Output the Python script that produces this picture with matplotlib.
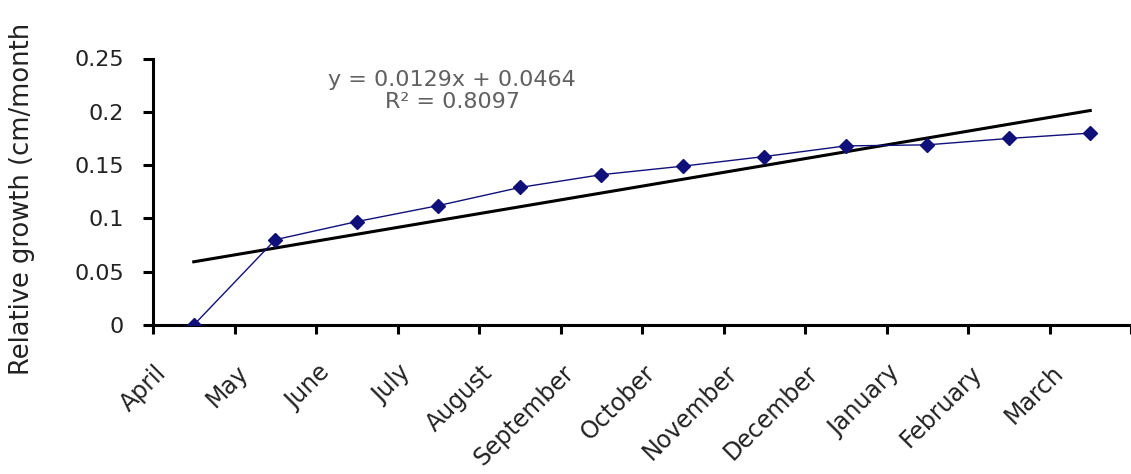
import matplotlib
matplotlib.use("Agg")
import matplotlib.pyplot as plt
import matplotlib.transforms as mtransforms
import numpy as np

months = ["April", "May", "June", "July", "August", "September", "October",
          "November", "December", "January", "February", "March"]
growth = [0.0, 0.080, 0.097, 0.112, 0.129, 0.141, 0.149, 0.158, 0.168, 0.169, 0.175, 0.180]

# linear trendline as reported on the chart
slope = 0.0129
intercept = 0.0464
r_squared = 0.8097

y_ticks = [0, 0.05, 0.1, 0.15, 0.2, 0.25]
y_ticklabels = ["0", "0.05", "0.1", "0.15", "0.2", "0.25"]

plt.rcParams["font.family"] = ["DejaVu Sans"]

fig = plt.figure(figsize=(11.31, 4.74), dpi=100)
ax = fig.add_axes([153 / 1131, 1 - 325 / 474, 1 - 153 / 1131, (325 - 58.5) / 474])

x = np.arange(len(months))
trend = slope * (x + 1) + intercept

ax.plot(x, trend, color="black", lw=2.2, zorder=2)
ax.plot(x, growth, color="#10107a", lw=1.0, marker="D", markersize=7,
        markerfacecolor="#10107a", markeredgecolor="#10107a", zorder=3)

ax.set_xlim(-0.5, len(months) - 0.5)
ax.set_ylim(0, 0.25)

for side in ["top", "right"]:
    ax.spines[side].set_visible(False)
for side in ["left", "bottom"]:
    ax.spines[side].set_linewidth(2.2)
    ax.spines[side].set_color("black")

ax.set_yticks(y_ticks)
ax.set_yticklabels(y_ticklabels, fontsize=16, color="#222222")
ax.tick_params(axis="y", direction="out", length=7, width=2.2, pad=14)

# category labels at centres, tick marks between categories
ax.set_xticks(x)
ax.set_xticklabels(months, fontsize=17, color="#222222", rotation=45,
                   ha="right", va="center", rotation_mode="anchor")
ax.set_xticks(np.arange(-0.5, len(months)), minor=True)
ax.tick_params(axis="x", which="major", length=0, pad=32)
ax.tick_params(axis="x", which="minor", direction="out", length=6.5, width=2.2)

shift = mtransforms.ScaledTranslation(-0.31, 0, fig.dpi_scale_trans)
for lbl in ax.get_xticklabels():
    lbl.set_transform(lbl.get_transform() + shift)

ax.text(3.17, 0.230, f"y = {slope}x + {intercept}", ha="center", va="center",
        fontsize=16, color="#606060")
ax.text(3.17, 0.2095, f"R² = {r_squared}", ha="center", va="center",
        fontsize=16, color="#606060")

# the label in the source image runs to the top edge, ending at "(cm/month"
fig.text(22 / 1131, 1 - 375 / 474, "Relative growth (cm/month", rotation=90,
         ha="center", va="bottom", fontsize=18.5, color="#222222")

fig.savefig("out.png", dpi=100, facecolor="white")
